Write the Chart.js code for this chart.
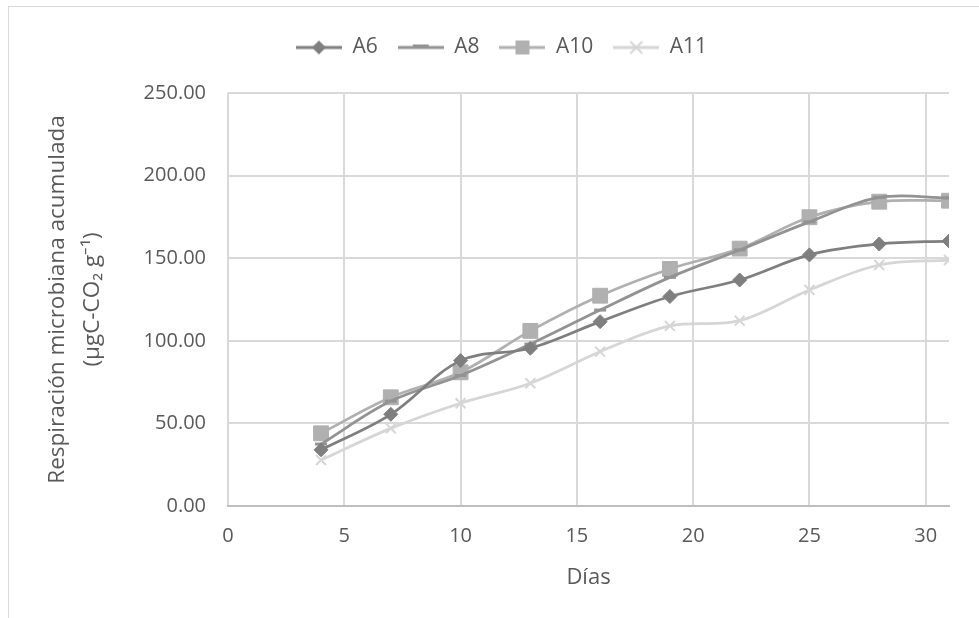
<!DOCTYPE html>
<html>
<head>
<meta charset="utf-8">
<script src="https://cdn.jsdelivr.net/npm/chart.js@4.4.0/dist/chart.umd.min.js"></script>
<style>
  html, body { margin: 0; padding: 0; background: #fff; overflow: hidden; }
  canvas { position: absolute; left: 0; top: 0; }
  #frame { position: absolute; left: 8px; top: 6px; width: 1200px; height: 900px;
           border-left: 1.5px solid #d9d9d9; border-top: 1.5px solid #d9d9d9; pointer-events: none; }
</style>
</head>
<body>
<canvas id="chart" width="979" height="618"></canvas>
<div id="frame"></div>
<script>
// días de incubación
var dias = [4, 7, 10, 13, 16, 19, 22, 25, 28, 31];
// respiración acumulada por muestra
var a6  = [34.0, 55.5, 88.0, 95.5, 111.6, 126.8, 136.8, 152.0, 158.6, 160.4];
var a8  = [37.5, 63.5, 79.0, 98.0, 118.6, 138.4, 155.0, 172.0, 186.8, 186.5];
var a10 = [44.0, 65.8, 80.9, 106.0, 127.3, 143.5, 155.8, 174.8, 184.2, 184.8];
var a11 = [27.8, 47.0, 62.2, 74.3, 93.4, 109.0, 112.2, 130.8, 145.9, 148.9];
var xTicks = [0, 5, 10, 15, 20, 25, 30];
var yTicks = [0, 50, 100, 150, 200, 250];

function pts(vals) {
  return dias.map(function (d, i) { return { x: d, y: vals[i] }; });
}

function legendIcon(color, kind) {
  var c = document.createElement('canvas');
  c.width = 46; c.height = 16;
  var g = c.getContext('2d');
  g.strokeStyle = color; g.fillStyle = color; g.lineWidth = 3;
  g.beginPath(); g.moveTo(0, 8); g.lineTo(46, 8); g.stroke();
  if (kind === 'diamond') {
    g.beginPath(); g.moveTo(23, 1); g.lineTo(30, 8); g.lineTo(23, 15); g.lineTo(16, 8); g.closePath(); g.fill();
  } else if (kind === 'square') {
    g.fillRect(16, 1, 14, 14);
  } else if (kind === 'dash') {
    g.fillRect(15, 5, 16, 4);
  } else if (kind === 'x') {
    g.lineWidth = 2;
    g.beginPath(); g.moveTo(17, 2); g.lineTo(29, 14); g.moveTo(29, 2); g.lineTo(17, 14); g.stroke();
  }
  return c;
}

var colors = ['#7f7f7f', '#939393', '#b0b0b0', '#d6d6d6'];
var icons = [
  legendIcon(colors[0], 'diamond'),
  legendIcon(colors[1], 'dash'),
  legendIcon(colors[2], 'square'),
  legendIcon(colors[3], 'x')
];

function serie(label, vals, color, style, radius, bw) {
  return {
    label: label,
    data: pts(vals),
    borderColor: color,
    backgroundColor: color,
    borderWidth: 2.75,
    tension: 0.35,
    pointStyle: style,
    pointRadius: radius,
    pointBorderWidth: bw,
    pointBackgroundColor: color,
    pointBorderColor: color
  };
}

// leyenda: altura fija y un poco a la derecha, como en el original
var legendFix = {
  id: 'legendFix',
  beforeInit: function (chart) {
    var fit = chart.legend.fit;
    chart.legend.fit = function () {
      fit.call(this);
      this.height = 76;
    };
  },
  afterLayout: function (chart) {
    chart.legend.left += 27;
    chart.legend.right += 27;
  }
};

var ctx = document.getElementById('chart').getContext('2d');
var chart = new Chart(ctx, {
  type: 'line',
  data: {
    datasets: [
      serie('A6', a6, colors[0], 'rectRot', 7, 1),
      serie('A8', a8, colors[1], 'line', 6, 3),
      serie('A10', a10, colors[2], 'rect', 10.5, 1),
      serie('A11', a11, colors[3], 'crossRot', 7, 2)
    ]
  },
  plugins: [legendFix],
  options: {
    responsive: false,
    animation: false,
    layout: { padding: { left: 0, right: 30, top: 17, bottom: 0 } },
    plugins: {
      legend: {
        position: 'top',
        labels: {
          font: { family: 'Open Sans', size: 21 },
          color: '#595959',
          usePointStyle: true,
          pointStyleWidth: 46,
          padding: 20,
          generateLabels: function (ch) {
            var items = Chart.defaults.plugins.legend.labels.generateLabels(ch);
            items.forEach(function (it, i) { it.pointStyle = icons[i]; });
            return items;
          }
        }
      },
      tooltip: { enabled: false }
    },
    scales: {
      x: {
        type: 'linear',
        min: 0,
        max: 31,
        afterFit: function (s) { s.height = 112; },
        afterBuildTicks: function (s) { s.ticks = xTicks.map(function (v) { return { value: v }; }); },
        grid: { color: '#d9d9d9', lineWidth: 2, drawTicks: false },
        border: { color: '#bfbfbf', width: 2 },
        ticks: { font: { family: 'Open Sans', size: 20 }, color: '#595959', padding: 18 },
        title: {
          display: true,
          text: 'Días',
          font: { family: 'Open Sans', size: 22 },
          color: '#595959',
          padding: { top: 0, bottom: 27 }
        }
      },
      y: {
        min: 0,
        max: 250,
        afterFit: function (s) { s.width = 228; },
        afterBuildTicks: function (s) { s.ticks = yTicks.map(function (v) { return { value: v }; }); },
        grid: { color: '#d9d9d9', lineWidth: 2, drawTicks: false },
        border: { display: false },
        ticks: {
          font: { family: 'Open Sans', size: 20 },
          color: '#595959',
          padding: 22,
          callback: function (v) { return v.toFixed(2); }
        },
        title: {
          display: true,
          text: ['Respiración microbiana acumulada', '(µgC-CO₂ g⁻¹)'],
          font: { family: 'Open Sans', size: 22.5, lineHeight: 1.55 },
          color: '#595959',
          padding: { top: 40, bottom: 0 }
        }
      }
    }
  }
});
</script>
</body>
</html>
